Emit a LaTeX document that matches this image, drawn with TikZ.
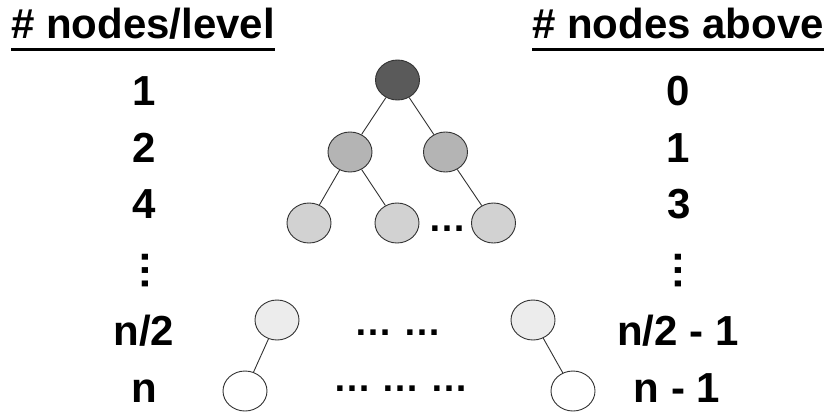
\documentclass[tikz,border=0pt]{standalone}
\usepackage{fontspec}
\setmainfont{Liberation Sans}
\usetikzlibrary{shapes.geometric}
\definecolor{edgecol}{HTML}{333333}
\definecolor{lvA}{HTML}{5A5A5A}
\definecolor{lvB}{HTML}{B4B4B4}
\definecolor{lvC}{HTML}{D2D2D2}
\definecolor{lvD}{HTML}{ECECEC}
\tikzset{
  x=1pt, y=-1pt,
  treenode/.style={ellipse, draw=edgecol, line width=0.9pt, minimum width=44pt, minimum height=40pt, inner sep=0pt},
  lbl/.style={anchor=base, inner sep=0pt, font=\fontsize{42}{46}\selectfont\bfseries},
  hdr/.style={anchor=base west, inner sep=0pt, font=\fontsize{42}{46}\selectfont\bfseries},
  ell/.style={anchor=base, inner sep=0pt, font=\fontsize{38}{40}\selectfont\bfseries},
  vell/.style={rotate=90, inner sep=0pt, font=\fontsize{42}{44}\selectfont\bfseries},
  edge/.style={draw=edgecol, line width=0.9pt},
  uline/.style={line width=3pt}
}
\begin{document}
\begin{tikzpicture}
\useasboundingbox[fill=white] (0,0) rectangle (832,412);
% headers
\node[hdr] (hl) at (11,38) {\# nodes/level};
\node[hdr] (hr) at (532,38) {\# nodes above};
\draw[uline] ([yshift=-12pt]hl.base west) -- ([yshift=-12pt]hl.base east);
\draw[uline] ([yshift=-12pt]hr.base west) -- ([yshift=-12pt]hr.base east);
% left labels
\node[lbl] (l1) at (144,105) {1};
\node[lbl] (l2) at (144,162) {2};
\node[lbl] (l4) at (144,218) {4};
\node[vell] (lv) at (145,270) {…};
\node[lbl] (lh) at (144,345) {n/2};
\node[lbl] (ln) at (144,402) {n};
% right labels
\node[lbl] (r0) at (678,105) {0};
\node[lbl] (r1) at (678,162) {1};
\node[lbl] (r3) at (679,218) {3};
\node[vell] (rv) at (678,270) {…};
\node[lbl] (rh) at (678,345) {n/2 - 1};
\node[lbl] (rn) at (677,402) {n - 1};
% tree
\node[treenode, fill=lvA] (r) at (397.5,80) {};
\node[treenode, fill=lvB] (a) at (350,152) {};
\node[treenode, fill=lvB] (b) at (445.5,152) {};
\node[treenode, fill=lvC] (c) at (309,223) {};
\node[treenode, fill=lvC] (d) at (397,223) {};
\node[treenode, fill=lvC] (e) at (493.5,223) {};
\node[treenode, fill=lvD] (f) at (277,320) {};
\node[treenode, fill=lvD] (g) at (533,320) {};
\node[treenode, fill=white] (h) at (245,391) {};
\node[treenode, fill=white] (i) at (573,391) {};
\draw[edge] (r) -- (a);
\draw[edge] (r) -- (b);
\draw[edge] (a) -- (c);
\draw[edge] (a) -- (d);
\draw[edge] (b) -- (e);
\draw[edge] (f) -- (h);
\draw[edge] (g) -- (i);
% ellipses
\node[ell] (e3) at (447.5,231) {…};
\node[ell] (eh) at (398,335) {… …};
\node[ell] (en) at (401,391) {… … …};
\end{tikzpicture}
\end{document}
